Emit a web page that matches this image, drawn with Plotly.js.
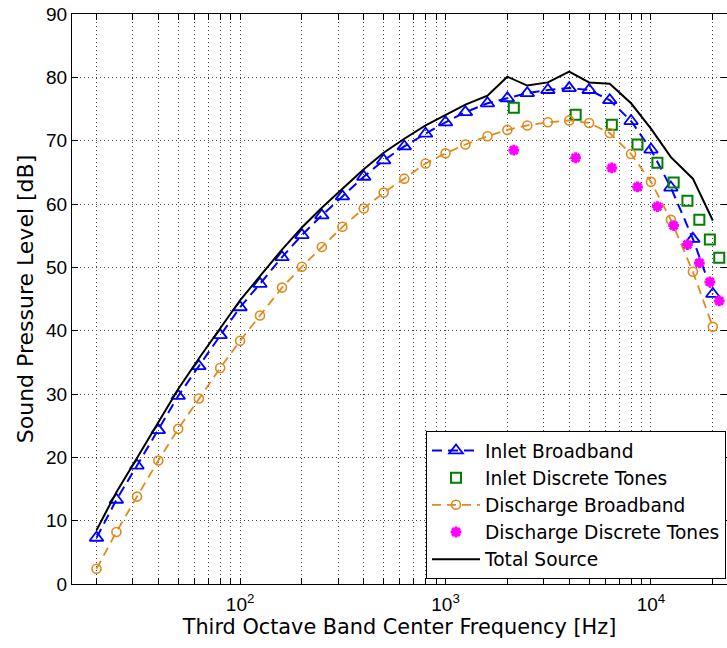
<!DOCTYPE html>
<html>
<head>
<meta charset="utf-8">
<script src="https://cdn.plot.ly/plotly-3.0.1.min.js"></script>
<style>html,body{margin:0;padding:0;background:#fff;}#chart{width:727px;height:648px;}</style>
</head>
<body>
<div id="chart"></div>
<script>
// Third-octave band centre frequencies [Hz]
const bands = [20, 25, 31.5, 40, 50, 63, 80, 100, 125, 160, 200, 250, 315, 400, 500, 630, 800,
  1000, 1250, 1600, 2000, 2500, 3150, 4000, 5000, 6300, 8000, 10000, 12500, 16000, 20000];
// Inlet broadband SPL [dB]
const inletBroadband = [7.3, 13.3, 18.7, 24.3, 29.7, 34.4, 39.3, 43.7, 47.4, 51.6, 55.1, 58.2, 61.2, 64.3, 66.9, 69.1, 71.1,
  72.9, 74.5, 75.9, 76.7, 77.5, 78.0, 78.3, 78.0, 76.4, 73.1, 68.6, 62.6, 54.5, 45.8];
// Discharge broadband SPL [dB]
const dischargeBroadband = [2.4, 8.2, 13.8, 19.5, 24.5, 29.3, 34.1, 38.4, 42.4, 46.8, 50.1, 53.2, 56.4, 59.3, 61.8, 64.0, 66.4,
  68.0, 69.4, 70.7, 71.7, 72.4, 72.9, 73.2, 72.8, 71.2, 67.9, 63.5, 57.5, 49.3, 40.6];
// Total source SPL [dB]
const totalSource = [8.5, 14.5, 19.9, 25.5, 30.8, 35.6, 40.4, 44.8, 48.6, 52.8, 56.3, 59.4, 62.4, 65.5, 68.1, 70.3, 72.4,
  74.1, 75.7, 77.1, 80.1, 78.7, 79.2, 80.9, 79.2, 79.0, 75.9, 71.9, 67.4, 64.0, 57.4];
// Discrete tone frequencies [Hz]
const toneFreqs = [2150, 4300, 6450, 8600, 10750, 12900, 15050, 17200, 19350, 21500];
// Inlet discrete tones SPL [dB]
const inletTones = [75.2, 74.1, 72.5, 69.4, 66.5, 63.4, 60.5, 57.5, 54.4, 51.5];
// Discharge discrete tones SPL [dB]
const dischargeTones = [68.5, 67.3, 65.7, 62.7, 59.6, 56.6, 53.6, 50.7, 47.7, 44.7];

// x tick positions (decades labelled, intermediate unlabeled for grid)
const xTickVals = [20,30,40,50,60,70,80,90,100,200,300,400,500,600,700,800,900,1000,
  2000,3000,4000,5000,6000,7000,8000,9000,10000,20000];
const xTickText = xTickVals.map(v => v === 100 ? '10<sup>2</sup>' : v === 1000 ? '10<sup>3</sup>' : v === 10000 ? '10<sup>4</sup>' : '');
const yTickVals = [0,10,20,30,40,50,60,70,80,90];

const FONT = '"Liberation Sans", Arial, Helvetica, sans-serif';
const WIDE = '"DejaVu Sans", "Liberation Sans", Arial, sans-serif';
const orange = '#E08A1E';

const traces = [
  {x: bands, y: inletBroadband, name: 'Inlet Broadband', type: 'scatter', mode: 'lines+markers',
   line: {color: '#0000FF', width: 2, dash: '10px,6px'},
   marker: {symbol: 'triangle-up-open', size: 12, color: '#0000FF', line: {width: 1.8, color: '#0000FF'}}},
  {x: toneFreqs, y: inletTones, name: 'Inlet Discrete Tones', type: 'scatter', mode: 'markers',
   marker: {symbol: 'square-open', size: 10, color: '#008000', line: {width: 2, color: '#008000'}}},
  {x: bands, y: dischargeBroadband, name: 'Discharge Broadband', type: 'scatter', mode: 'lines+markers',
   line: {color: orange, width: 1.8, dash: '9px,6px'},
   marker: {symbol: 'circle-open', size: 9, color: orange, line: {width: 1.6, color: orange}}},
  {x: toneFreqs, y: dischargeTones, name: 'Discharge Discrete Tones', type: 'scatter', mode: 'markers',
   marker: {symbol: 'asterisk-open', size: 9, color: '#FF00FF', line: {width: 3, color: '#FF00FF'}}},
  {x: bands, y: totalSource, name: 'Total Source', type: 'scatter', mode: 'lines',
   line: {color: '#000000', width: 2}}
];

const gridCommon = {gridcolor: '#444', gridwidth: 1, griddash: '1px,3px'};

const layout = {
  width: 727, height: 648,
  margin: {l: 72, r: 0, t: 14, b: 64, pad: 0},
  paper_bgcolor: '#ffffff', plot_bgcolor: '#ffffff',
  font: {family: FONT, color: '#000', size: 19},
  showlegend: true,
  legend: {x: 0.9985, xanchor: 'right', y: 0.009, yanchor: 'bottom',
    bgcolor: '#ffffff', bordercolor: '#000', borderwidth: 1,
    font: {family: WIDE, size: 18.6, color: '#000'}, itemwidth: 48, tracegroupgap: 0},
  xaxis: Object.assign({
    type: 'log', range: [Math.log10(15.2), Math.log10(23450)],
    tickmode: 'array', tickvals: xTickVals, ticktext: xTickText,
    ticks: 'inside', ticklen: 6, tickcolor: '#000', tickwidth: 1,
    showline: true, linecolor: '#000', linewidth: 1, mirror: 'ticks',
    showgrid: true, zeroline: false, ticklabelstandoff: 3,
    tickfont: {family: FONT, size: 19, color: '#000'},
    title: {text: 'Third Octave Band Center Frequency [Hz]', font: {family: WIDE, size: 20.8, color: '#000'}, standoff: 5}
  }, gridCommon),
  yaxis: Object.assign({
    range: [0, 90], tickmode: 'array', tickvals: yTickVals,
    ticks: 'inside', ticklen: 6, tickcolor: '#000', tickwidth: 1,
    showline: true, linecolor: '#000', linewidth: 1, mirror: 'ticks',
    showgrid: true, zeroline: false,
    tickfont: {family: FONT, size: 19, color: '#000'},
    title: {text: 'Sound Pressure Level [dB]', font: {family: WIDE, size: 22, color: '#000'}, standoff: 6}
  }, gridCommon)
};

Plotly.newPlot('chart', traces, layout, {staticPlot: true, displayModeBar: false});
</script>
</body>
</html>
